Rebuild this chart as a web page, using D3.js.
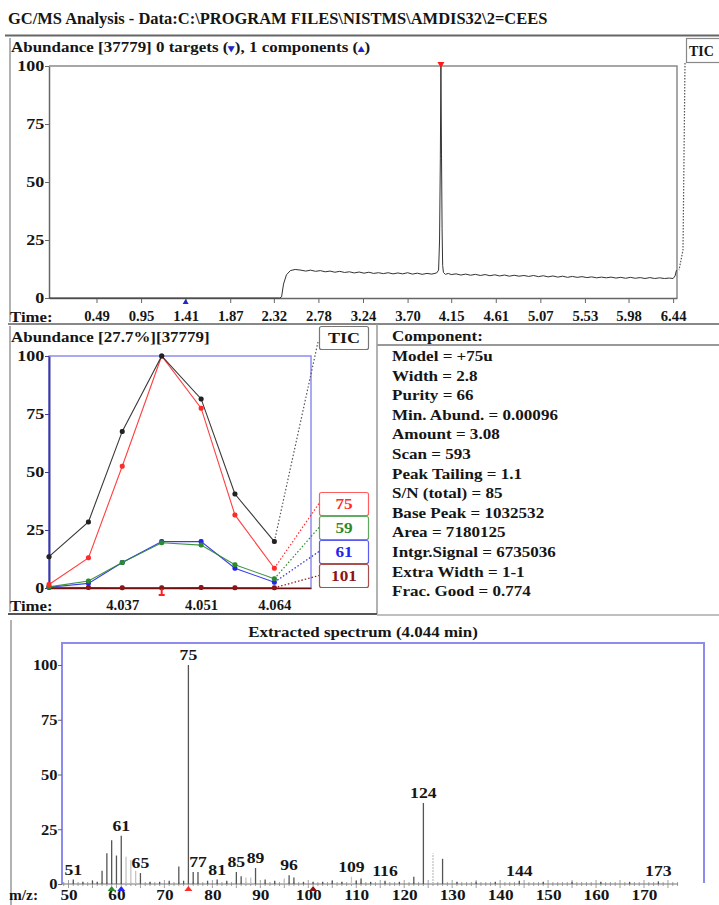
<!DOCTYPE html>
<html><head><meta charset="utf-8">
<script src="https://cdn.jsdelivr.net/npm/d3@7"></script>
<style>
body{margin:0;background:#fff;}
svg text{font-family:"Liberation Serif","Times New Roman",serif;font-weight:bold;fill:#151515;}
</style></head><body>
<svg id="c" width="719" height="905"></svg>
<script>
// ---------------- DATA ----------------
const titleText = "GC/MS Analysis - Data:C:\\PROGRAM FILES\\NISTMS\\AMDIS32\\2=CEES";
const ticTimes = [0.00,2.38,2.40,2.42,2.45,2.49,2.54,2.60,2.65,2.70,2.75,2.80,2.85,2.90,2.95,3.00,3.05,3.10,3.15,3.20,3.25,3.30,3.35,3.40,3.45,3.50,3.55,3.60,3.65,3.70,3.75,3.80,3.85,3.90,3.95,4.00,4.02,4.03,4.038,4.044,4.05,4.056,4.062,4.07,4.09,4.12,4.15,4.20,4.25,4.30,4.35,4.40,4.45,4.50,4.55,4.60,4.65,4.70,4.75,4.80,4.85,4.90,4.95,5.00,5.05,5.10,5.15,5.20,5.25,5.30,5.35,5.40,5.45,5.50,5.55,5.60,5.65,5.70,5.75,5.80,5.85,5.90,5.95,6.00,6.05,6.10,6.15,6.20,6.25,6.30,6.35,6.40,6.44,6.46,6.475];
const ticValues = [0,0,0.5,6,10,11.8,12.3,12,11.6,12,11.5,11.8,11.3,11.6,11.1,11.5,11.0,11.3,10.8,11.2,10.7,11.1,10.6,10.9,10.5,10.9,10.4,10.8,10.4,10.9,10.3,10.7,10.2,10.6,10.3,10.8,12,25,60,100,62,30,14,11,10.2,10.6,10.1,10.4,9.9,10.3,9.8,10.2,9.7,10.1,9.6,10.0,9.5,9.9,9.4,9.8,9.4,9.7,9.3,9.7,9.2,9.6,9.1,9.5,9.0,9.4,8.9,9.3,8.9,9.2,8.8,9.1,8.7,9.0,8.7,9.0,8.6,8.9,8.5,8.9,8.5,8.8,8.4,8.8,8.4,8.7,8.4,8.6,8.4,9.5,12];
const topTimeTicks = [0.49,0.95,1.41,1.87,2.32,2.78,3.24,3.70,4.15,4.61,5.07,5.53,5.98,6.44];
const abundTicks = [0,25,50,75,100];
const targetTime = 1.41;
const componentTime = 4.044;

const scanTimes = [4.024,4.031,4.037,4.044,4.051,4.057,4.064];
const midTimeLabels = [4.037,4.051,4.064];
const ionTIC = [13.5,28.5,67.5,100,81.5,40.5,20];
const ion75 = [1.5,13,52.5,100,77.5,31.5,8.5];
const ion59 = [0.5,3,11,19.5,18.5,10,4];
const ion61 = [0.3,2,11,20,20,8.5,2.5];
const ion101 = [0.3,0.2,0.1,0.1,0.2,0.1,0.1];
const ionNames = ["75","59","61","101"];

const componentInfo = ["Model = +75u","Width = 2.8","Purity = 66","Min. Abund. = 0.00096","Amount = 3.08","Scan = 593","Peak Tailing = 1.1","S/N (total) = 85","Base Peak = 1032532","Area = 7180125","Intgr.Signal = 6735036","Extra Width = 1-1","Frac. Good = 0.774"];

const spectrumMz  = [51,53,55,56,57,58,59,60,61,62,63,64,65,67,69,71,73,74,75,76,77,79,81,83,85,86,87,88,89,91,93,95,96,97,99,101,103,105,107,109,110,111,113,116,119,122,124,126,128,131,135,139,144,149,155,161,167,173];
const spectrumInt = [2,1,1.5,1,6,14,20,13,22,12.5,11,6,5,1,1,1.5,8,1.5,100,5.5,5.5,1.5,2,1.5,5.5,3.5,3,3,7.3,2,1.5,2.5,4,3,1,1,1,1.5,1,3.3,1.5,2.5,1,1.5,1,3.3,37,14,11.5,1,1,1,1.5,1,1,1,1,1.2];
const spectrumLight = [62,63,64,87,88,95,109,126];
const spectrumLabels = [51,61,65,75,77,81,85,89,96,109,116,124,144,173];
const mzTicks = [50,60,70,80,90,100,110,120,130,140,150,160,170];
const modelIons = [59,61,75,101];

// ---------------- DRAW ----------------
const svg = d3.select("#c");
svg.append("rect").attr("width",719).attr("height",905).attr("fill","#fff");
const gray = "#8a8a8a";
const frameBlue = "#8c8cf0";
const colors = {TIC:"#222", "75":"#ff2a2a", "59":"#2b8a2b", "61":"#2424ee", "101":"#8b1414"};
const SX = 1.15;

function line(x1,y1,x2,y2,stroke,w,dash){
  const l = svg.append("line").attr("x1",x1).attr("y1",y1).attr("x2",x2).attr("y2",y2)
    .attr("stroke",stroke).attr("stroke-width",w||1);
  if(dash) l.attr("stroke-dasharray",dash);
  return l;
}
function txt(x,y,s,size,anchor,sx,color){
  const t = svg.append("text").attr("transform",`translate(${x},${y}) scale(${sx||SX},1)`)
    .attr("font-size",size||15).attr("text-anchor",anchor||"start").text(s);
  if(color) t.style("fill",color);
  return t;
}
function styleAxisText(g,size,sx){
  g.selectAll(".tick text").attr("font-size",size).attr("fill","#151515").attr("font-family",null)
    .attr("transform",`scale(${sx},1)`);
}

// Title & frames
txt(8,24,titleText,16,"start",1.03);
line(5,35.5,719,35.5,"#666",2);
line(10,38,10,322,"#999",1.5);
line(8,324,719,324,"#888",2);
line(10,326,10,612,"#999",1.5);
line(377,324,377,614,"#999",1.5);
line(377,345,719,345,"#999",2);
line(8,614,377,614,"#555",2);
line(377,615,719,615,"#aaa",1.5);
line(11,620,11,905,"#999",1.5);

// ---------- TOP PANEL ----------
const header = svg.append("text").attr("transform","translate(11,52) scale(1.13,1)").attr("font-size",15);
header.append("tspan").text("Abundance [37779] 0 targets (");
header.append("tspan").style("fill","#2424cc").attr("font-size",11).text("▾");
header.append("tspan").text("), 1 components (");
header.append("tspan").style("fill","#2424cc").attr("font-size",11).text("▴");
header.append("tspan").text(")");

svg.append("rect").attr("x",686.5).attr("y",38.5).attr("width",45).attr("height",24).attr("fill","#fff").attr("stroke","#888").attr("stroke-width",1.2);
txt(689,56,"TIC",14,"start",1.0);

const xTop = d3.scaleLinear().domain([0,6.48]).range([49,677]);
const yTop = d3.scaleLinear().domain([0,100]).range([298,66]);

svg.append("path").attr("d",`M49,66H677V298`).attr("fill","none").attr("stroke",gray).attr("stroke-width",1.5);

const gyTop = svg.append("g").attr("transform","translate(49,0)")
  .call(d3.axisLeft(yTop).tickValues(abundTicks).tickSize(4).tickSizeOuter(0).tickFormat(d3.format("d")));
const gxTop = svg.append("g").attr("transform","translate(0,298)")
  .call(d3.axisBottom(xTop).tickValues(topTimeTicks).tickSize(5).tickSizeOuter(0).tickFormat(d3.format(".2f")));
[gyTop,gxTop].forEach(g=>{
  g.select(".domain").attr("stroke","#666").attr("stroke-width",1.5);
  g.selectAll(".tick line").attr("stroke","#666");
});
styleAxisText(gyTop,15,1.2);
gyTop.selectAll(".tick text").attr("x",-4);
styleAxisText(gxTop,14,1.05);
gxTop.selectAll(".tick text").attr("y",13);
txt(10,322,"Time:",15,"start",1.12);

svg.append("path").datum(ticTimes.map((t,i)=>[t,ticValues[i]]))
  .attr("d",d3.line().x(d=>xTop(d[0])).y(d=>yTop(d[1])))
  .attr("fill","none").attr("stroke","#333").attr("stroke-width",1);

const tx = xTop(targetTime);
svg.append("path").attr("d",`M${tx-3},${304}L${tx+3},${304}L${tx},${299}Z`).attr("fill","#2424cc");
const cx = xTop(componentTime);
svg.append("path").attr("d",`M${cx-3.5},${62}L${cx+3.5},${62}L${cx},${68}Z`).attr("fill","#ff1a1a");
svg.append("path").attr("d",`M685,63L683,250L679,${yTop(12)}`).attr("fill","none")
  .attr("stroke","#555").attr("stroke-width",1.2).attr("stroke-dasharray","1.5,1.5");

// ---------- MIDDLE PANEL ----------
txt(11,342,"Abundance [27.7%][37779]",15,"start",1.13);
svg.append("rect").attr("x",319.5).attr("y",326.5).attr("width",49).attr("height",23).attr("rx",2)
  .attr("fill","#fff").attr("stroke","#777").attr("stroke-width",1.2);
txt(344,343,"TIC",15,"middle",1.2);

const xMid = d3.scaleLinear().domain([4.024,4.0705]).range([49,311]);
const yMid = d3.scaleLinear().domain([0,100]).range([588,356]);

svg.append("rect").attr("x",49).attr("y",356).attr("width",262).attr("height",232)
  .attr("fill","none").attr("stroke",frameBlue).attr("stroke-width",1.5);

const gyMid = svg.append("g").attr("transform","translate(49,0)")
  .call(d3.axisLeft(yMid).tickValues(abundTicks).tickSize(4).tickSizeOuter(0).tickFormat(d3.format("d")));
gyMid.select(".domain").attr("stroke","#3a3a9a").attr("stroke-width",2);
gyMid.selectAll(".tick line").attr("stroke","#3a3a9a");
styleAxisText(gyMid,15,1.2);
gyMid.selectAll(".tick text").attr("x",-4);

const gxMid = svg.append("g").attr("transform","translate(0,588)")
  .call(d3.axisBottom(xMid).tickValues(midTimeLabels).tickSize(0).tickSizeOuter(0).tickFormat(d3.format(".3f")));
gxMid.select(".domain").attr("stroke","#6b1010").attr("stroke-width",1.5);
styleAxisText(gxMid,14,1.05);
gxMid.selectAll(".tick text").attr("y",12);
txt(10,611,"Time:",15,"start",1.12);

const series = [
  {name:"TIC", vals:ionTIC},
  {name:"75", vals:ion75},
  {name:"59", vals:ion59},
  {name:"61", vals:ion61},
  {name:"101", vals:ion101}
];
const midLine = d3.line().x((d,i)=>xMid(scanTimes[i])).y(d=>yMid(d));
const lastX = xMid(scanTimes[scanTimes.length-1]);
const boxY = {"TIC":342,"75":503.5,"59":527.5,"61":551.5,"101":575.5};
series.forEach(s=>{
  svg.append("line").attr("x1",lastX).attr("y1",yMid(s.vals[s.vals.length-1]))
    .attr("x2",s.name==="TIC"?318:319).attr("y2",boxY[s.name])
    .attr("stroke",s.name==="TIC"?"#555":colors[s.name]).attr("stroke-width",1.2).attr("stroke-dasharray","1.5,2");
});
[...series].reverse().forEach(s=>{
  svg.append("path").datum(s.vals).attr("d",midLine).attr("fill","none")
    .attr("stroke",colors[s.name]).attr("stroke-width",1.1).attr("opacity",0.9);
  svg.selectAll(null).data(s.vals).enter().append("rect")
    .attr("x",(d,i)=>xMid(scanTimes[i])-2.5).attr("y",d=>yMid(d)-2.5)
    .attr("width",5).attr("height",5).attr("rx",2).attr("fill",colors[s.name]);
});
const mx = xMid(componentTime);
svg.append("rect").attr("x",mx-1).attr("y",589).attr("width",2).attr("height",7).attr("fill","#ff2020");
svg.append("rect").attr("x",mx-3).attr("y",594).attr("width",6).attr("height",2).attr("fill","#ff2020");

ionNames.forEach((n,i)=>{
  const y0 = 492 + i*24;
  svg.append("rect").attr("x",319.5).attr("y",y0+0.5).attr("width",49).attr("height",23).attr("rx",2)
    .attr("fill","#fff").attr("stroke",colors[n]).attr("stroke-width",1.2).attr("stroke-opacity",0.75);
  txt(344,y0+17,n,15,"middle",1.15,colors[n]);
});

// ---------- COMPONENT TEXT ----------
txt(392,341,"Component:",15.5,"start",1.1);
componentInfo.forEach((t,i)=>{
  txt(392,361+i*19.6,t,15.5,"start",1.1);
});

// ---------- SPECTRUM ----------
txt(363,637,"Extracted spectrum (4.044 min)",15,"middle",1.13);
const xSp = d3.scaleLinear().domain([50,170]).range([68.5,644]);
const ySp = d3.scaleLinear().domain([0,100]).range([884,665]);

svg.append("path").attr("d","M62,884V643H704V883").attr("fill","none").attr("stroke",frameBlue).attr("stroke-width",2);

const gySp = svg.append("g").attr("transform","translate(62,0)")
  .call(d3.axisLeft(ySp).tickValues(abundTicks).tickSize(4).tickSizeOuter(0).tickFormat(d3.format("d")));
gySp.select(".domain").remove();
gySp.selectAll(".tick line").attr("stroke","#666");
styleAxisText(gySp,15,1.1);
gySp.selectAll(".tick text").attr("x",-4);

const gxSp = svg.append("g").attr("transform","translate(0,884)")
  .call(d3.axisBottom(xSp).tickValues(mzTicks).tickSize(0).tickSizeOuter(0).tickFormat(d3.format("d")));
gxSp.select(".domain").attr("d",`M62,0H678`).attr("stroke","#777").attr("stroke-width",1.2);
styleAxisText(gxSp,15,1.15);
gxSp.selectAll(".tick text").attr("y",5);
txt(9,900,"m/z:",14,"start",1.1);

const minor = d3.range(49,178);
svg.selectAll(null).data(minor).enter().append("line")
  .attr("x1",d=>xSp(d)).attr("x2",d=>xSp(d))
  .attr("y1",d=>d%5===0?880:882).attr("y2",d=>d%5===0?888:886)
  .attr("stroke","#888").attr("stroke-width",0.8);

svg.selectAll(null).data(spectrumMz).enter().append("line")
  .attr("x1",d=>xSp(d)).attr("x2",d=>xSp(d))
  .attr("y1",884).attr("y2",(d,i)=>ySp(spectrumInt[i]))
  .attr("stroke",d=>spectrumLight.includes(d)?"#c4c4c4":"#555")
  .attr("stroke-width",1.3)
  .attr("stroke-dasharray",d=>d===126?"2,1":null);

spectrumLabels.forEach(m=>{
  const v = spectrumInt[spectrumMz.indexOf(m)];
  txt(xSp(m),ySp(v)-5,m,15,"middle",1.18);
});

modelIons.forEach((m,i)=>{
  const c = [colors["59"],colors["61"],colors["75"],colors["101"]][i];
  const x = xSp(m);
  svg.append("path").attr("d",`M${x-4},891L${x+4},891L${x},886Z`).attr("fill",c);
});
</script>
</body></html>
